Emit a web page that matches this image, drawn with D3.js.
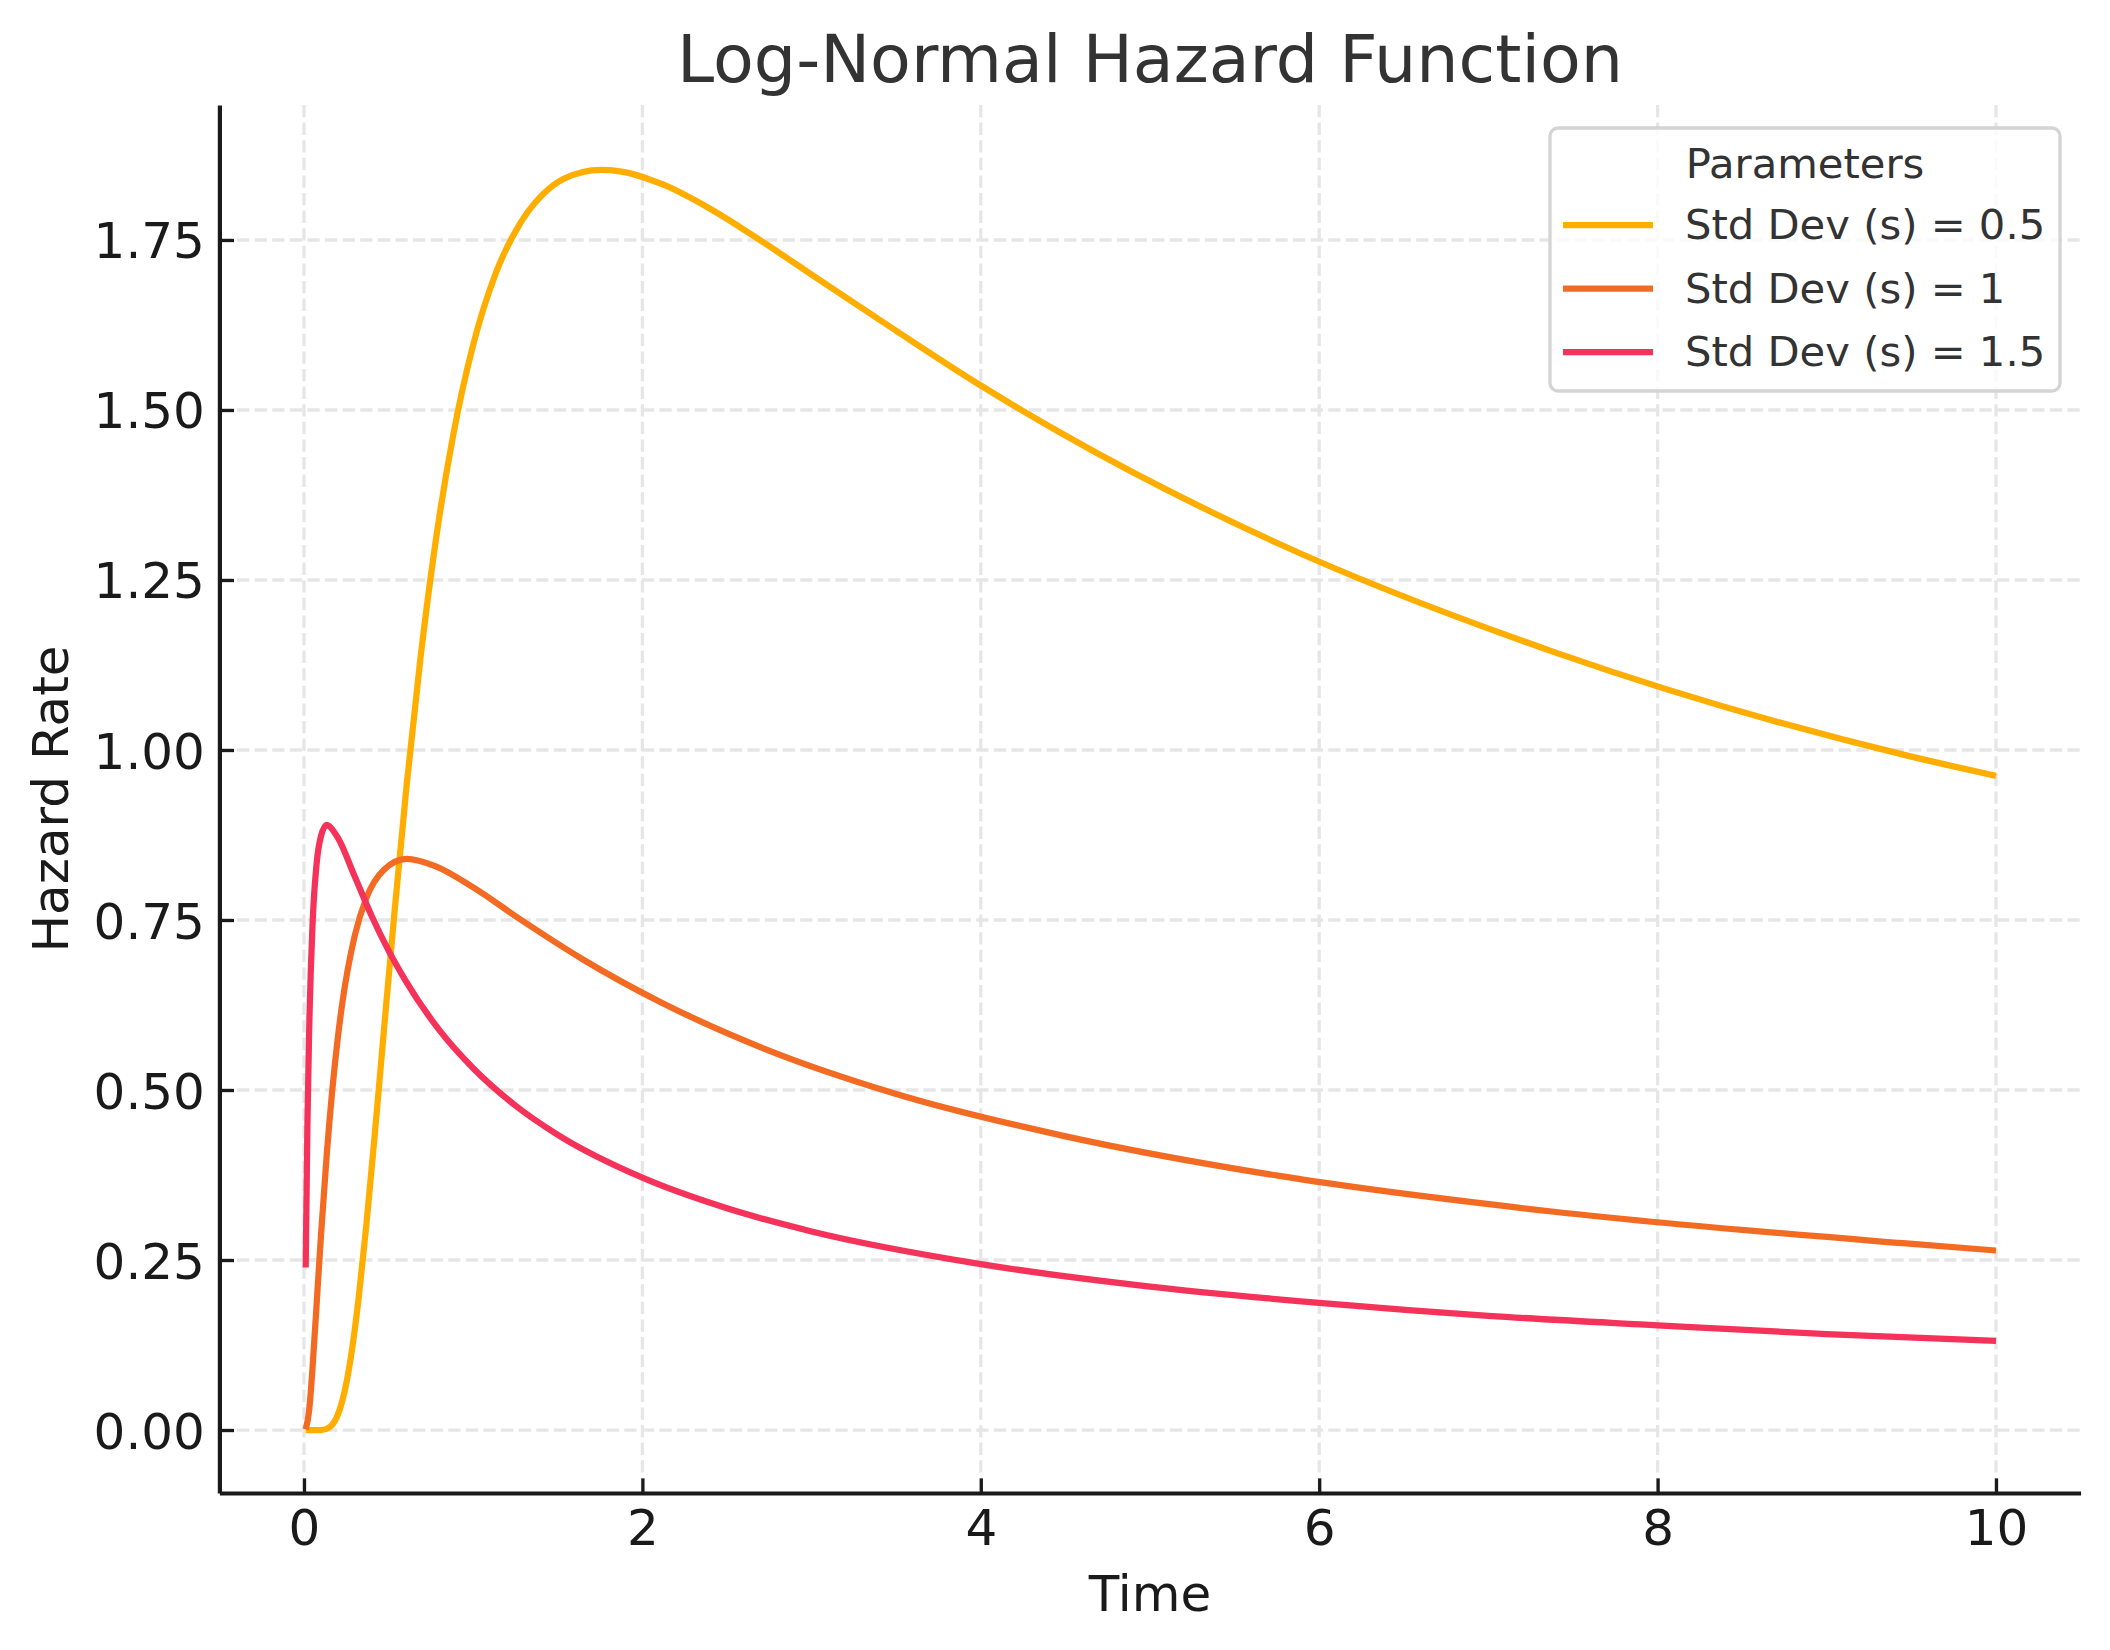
<!DOCTYPE html>
<html>
<head>
    <script src="https://d3js.org/d3.v7.min.js"></script>
    <style>
        body { margin: 0; background: #fff; }
        text { font-family: "DejaVu Sans", sans-serif; }
    </style>
</head>
<body>
    <div id="chart"></div>

    <script>
        // values
        const seriesNames = ["Std Dev (s) = 0.5", "Std Dev (s) = 1", "Std Dev (s) = 1.5"];
        const seriesColors = ["#FFAE00", "#F36B22", "#F5325A"];

        const timeS05 = [0.01, 0.1, 0.15, 0.1738, 0.2231, 0.2528, 0.2865, 0.3247, 0.3679, 0.4169, 0.4724, 0.5353,
            0.6065, 0.6873, 0.7788, 0.8825, 1.0, 1.1331, 1.284, 1.455, 1.6487, 1.75, 1.868, 2.117, 2.4, 2.7183, 3.0,
            3.4903, 4.0, 4.4817, 5.7546, 7.389, 9.4877, 10];
        const hazardS05 = [0, 0, 0.004, 0.010, 0.040, 0.072, 0.123, 0.198, 0.300, 0.431, 0.588, 0.763,
            0.948, 1.133, 1.308, 1.464, 1.596, 1.701, 1.777, 1.827, 1.850, 1.853, 1.851, 1.832, 1.796, 1.746, 1.699,
            1.618, 1.536, 1.465, 1.304, 1.144, 0.991, 0.962];

        const timeS1 = [0.01, 0.03, 0.0498, 0.0821, 0.1, 0.1353, 0.2, 0.2231, 0.3, 0.3679, 0.4724, 0.6065,
            0.7788, 1.0, 1.284, 1.6487, 2.117, 2.7183, 3.4903, 4.4817, 5.7546, 7.389, 9.4877, 10];
        const hazardS1 = [0.001, 0.028, 0.089, 0.215, 0.285, 0.408, 0.577, 0.622, 0.727, 0.782, 0.824, 0.840,
            0.829, 0.798, 0.750, 0.692, 0.628, 0.561, 0.495, 0.433, 0.374, 0.321, 0.274, 0.264];

        const timeS15 = [0.01, 0.02, 0.03, 0.05, 0.075, 0.1, 0.135, 0.15, 0.2, 0.3, 0.4, 0.5, 0.6, 0.8,
            1.0, 1.25, 1.5, 2, 2.5, 3, 4, 5, 6, 7, 8, 9, 10];
        const hazardS15 = [0.239, 0.446, 0.582, 0.741, 0.834, 0.873, 0.890, 0.888, 0.871, 0.814, 0.756, 0.705,
            0.661, 0.588, 0.532, 0.477, 0.434, 0.371, 0.326, 0.292, 0.244, 0.211, 0.187, 0.168, 0.154, 0.141, 0.131];

        const xTicks = [0, 2, 4, 6, 8, 10];
        const yTicks = [0, 0.25, 0.5, 0.75, 1.0, 1.25, 1.5, 1.75];

        const series = [
            { name: seriesNames[0], color: seriesColors[0], values: timeS05.map((t, i) => ({ t: t, h: hazardS05[i] })) },
            { name: seriesNames[1], color: seriesColors[1], values: timeS1.map((t, i) => ({ t: t, h: hazardS1[i] })) },
            { name: seriesNames[2], color: seriesColors[2], values: timeS15.map((t, i) => ({ t: t, h: hazardS15[i] })) }
        ];

        const width = 2110, height = 1650;
        const plotLeft = 219.4, plotRight = 2080.6, plotTop = 105, plotBottom = 1493;

        const svg = d3.select("#chart")
            .append("svg")
            .attr("width", width)
            .attr("height", height);

        const x = d3.scaleLinear().domain([-0.5, 10.5]).range([plotLeft, plotRight]);
        const y = d3.scaleLinear().domain([-0.0926, 1.9485]).range([plotBottom, plotTop]);

        // grid
        const grid = svg.append("g");
        grid.selectAll(".gx").data(xTicks).join("line")
            .attr("x1", d => x(d)).attr("x2", d => x(d))
            .attr("y1", plotTop).attr("y2", plotBottom)
            .attr("stroke", "#e6e6e6").attr("stroke-width", 3.3)
            .attr("stroke-dasharray", "12.3,5.3");
        grid.selectAll(".gy").data(yTicks).join("line")
            .attr("x1", plotLeft).attr("x2", plotRight)
            .attr("y1", d => y(d)).attr("y2", d => y(d))
            .attr("stroke", "#e6e6e6").attr("stroke-width", 3.3)
            .attr("stroke-dasharray", "12.3,5.3");

        // lines
        const line = d3.line()
            .x(d => x(d.t))
            .y(d => y(d.h))
            .curve(d3.curveMonotoneX);

        svg.append("g").selectAll("path")
            .data(series)
            .join("path")
            .attr("d", d => line(d.values))
            .attr("fill", "none")
            .attr("stroke", d => d.color)
            .attr("stroke-width", 6.25)
            .attr("stroke-linejoin", "round");

        // axes
        const xAxis = svg.append("g")
            .attr("transform", "translate(0," + plotBottom + ")")
            .call(d3.axisBottom(x).tickValues(xTicks).tickFormat(d3.format("d"))
                .tickSizeInner(-14.6).tickSizeOuter(0).tickPadding(16.5));
        const yAxis = svg.append("g")
            .attr("transform", "translate(" + plotLeft + ",0)")
            .call(d3.axisLeft(y).tickValues(yTicks).tickFormat(d3.format(".2f"))
                .tickSizeInner(-14.6).tickSizeOuter(0).tickPadding(14.5));

        [xAxis, yAxis].forEach(a => {
            a.select(".domain").attr("stroke", "#1a1a1a").attr("stroke-width", 4.2);
            a.selectAll(".tick line").attr("stroke", "#1a1a1a").attr("stroke-width", 3.3);
            a.selectAll(".tick text")
                .attr("fill", "#1a1a1a")
                .style("font-family", "DejaVu Sans")
                .style("font-size", "50px");
        });
        yAxis.selectAll(".tick text").attr("dy", "0.36em");

        // title and axis labels
        svg.append("text")
            .attr("x", (plotLeft + plotRight) / 2).attr("y", 82)
            .attr("text-anchor", "middle")
            .attr("fill", "#333333")
            .style("font-size", "66.7px")
            .text("Log-Normal Hazard Function");

        svg.append("text")
            .attr("x", (plotLeft + plotRight) / 2).attr("y", 1611)
            .attr("text-anchor", "middle")
            .attr("fill", "#1a1a1a")
            .style("font-size", "50px")
            .text("Time");

        svg.append("text")
            .attr("transform", "translate(68," + (plotTop + plotBottom) / 2 + ") rotate(-90)")
            .attr("text-anchor", "middle")
            .attr("fill", "#1a1a1a")
            .style("font-size", "50px")
            .text("Hazard Rate");

        // legend
        const legend = svg.append("g");
        legend.append("rect")
            .attr("x", 1550).attr("y", 128)
            .attr("width", 510).attr("height", 263)
            .attr("rx", 8)
            .attr("fill", "#ffffff").attr("fill-opacity", 0.8)
            .attr("stroke", "#d4d4d4").attr("stroke-width", 3.3);

        legend.append("text")
            .attr("x", 1805).attr("y", 178)
            .attr("text-anchor", "middle")
            .attr("fill", "#333333")
            .style("font-size", "41.7px")
            .text("Parameters");

        const items = legend.selectAll(".item")
            .data(series)
            .join("g")
            .attr("transform", (d, i) => "translate(0," + (i * 63.5) + ")");
        items.append("line")
            .attr("x1", 1563).attr("x2", 1653)
            .attr("y1", 225).attr("y2", 225)
            .attr("stroke", d => d.color)
            .attr("stroke-width", 6.25);
        items.append("text")
            .attr("x", 1685).attr("y", 239)
            .attr("fill", "#333333")
            .style("font-size", "41.7px")
            .text(d => d.name);
    </script>
</body>
</html>
